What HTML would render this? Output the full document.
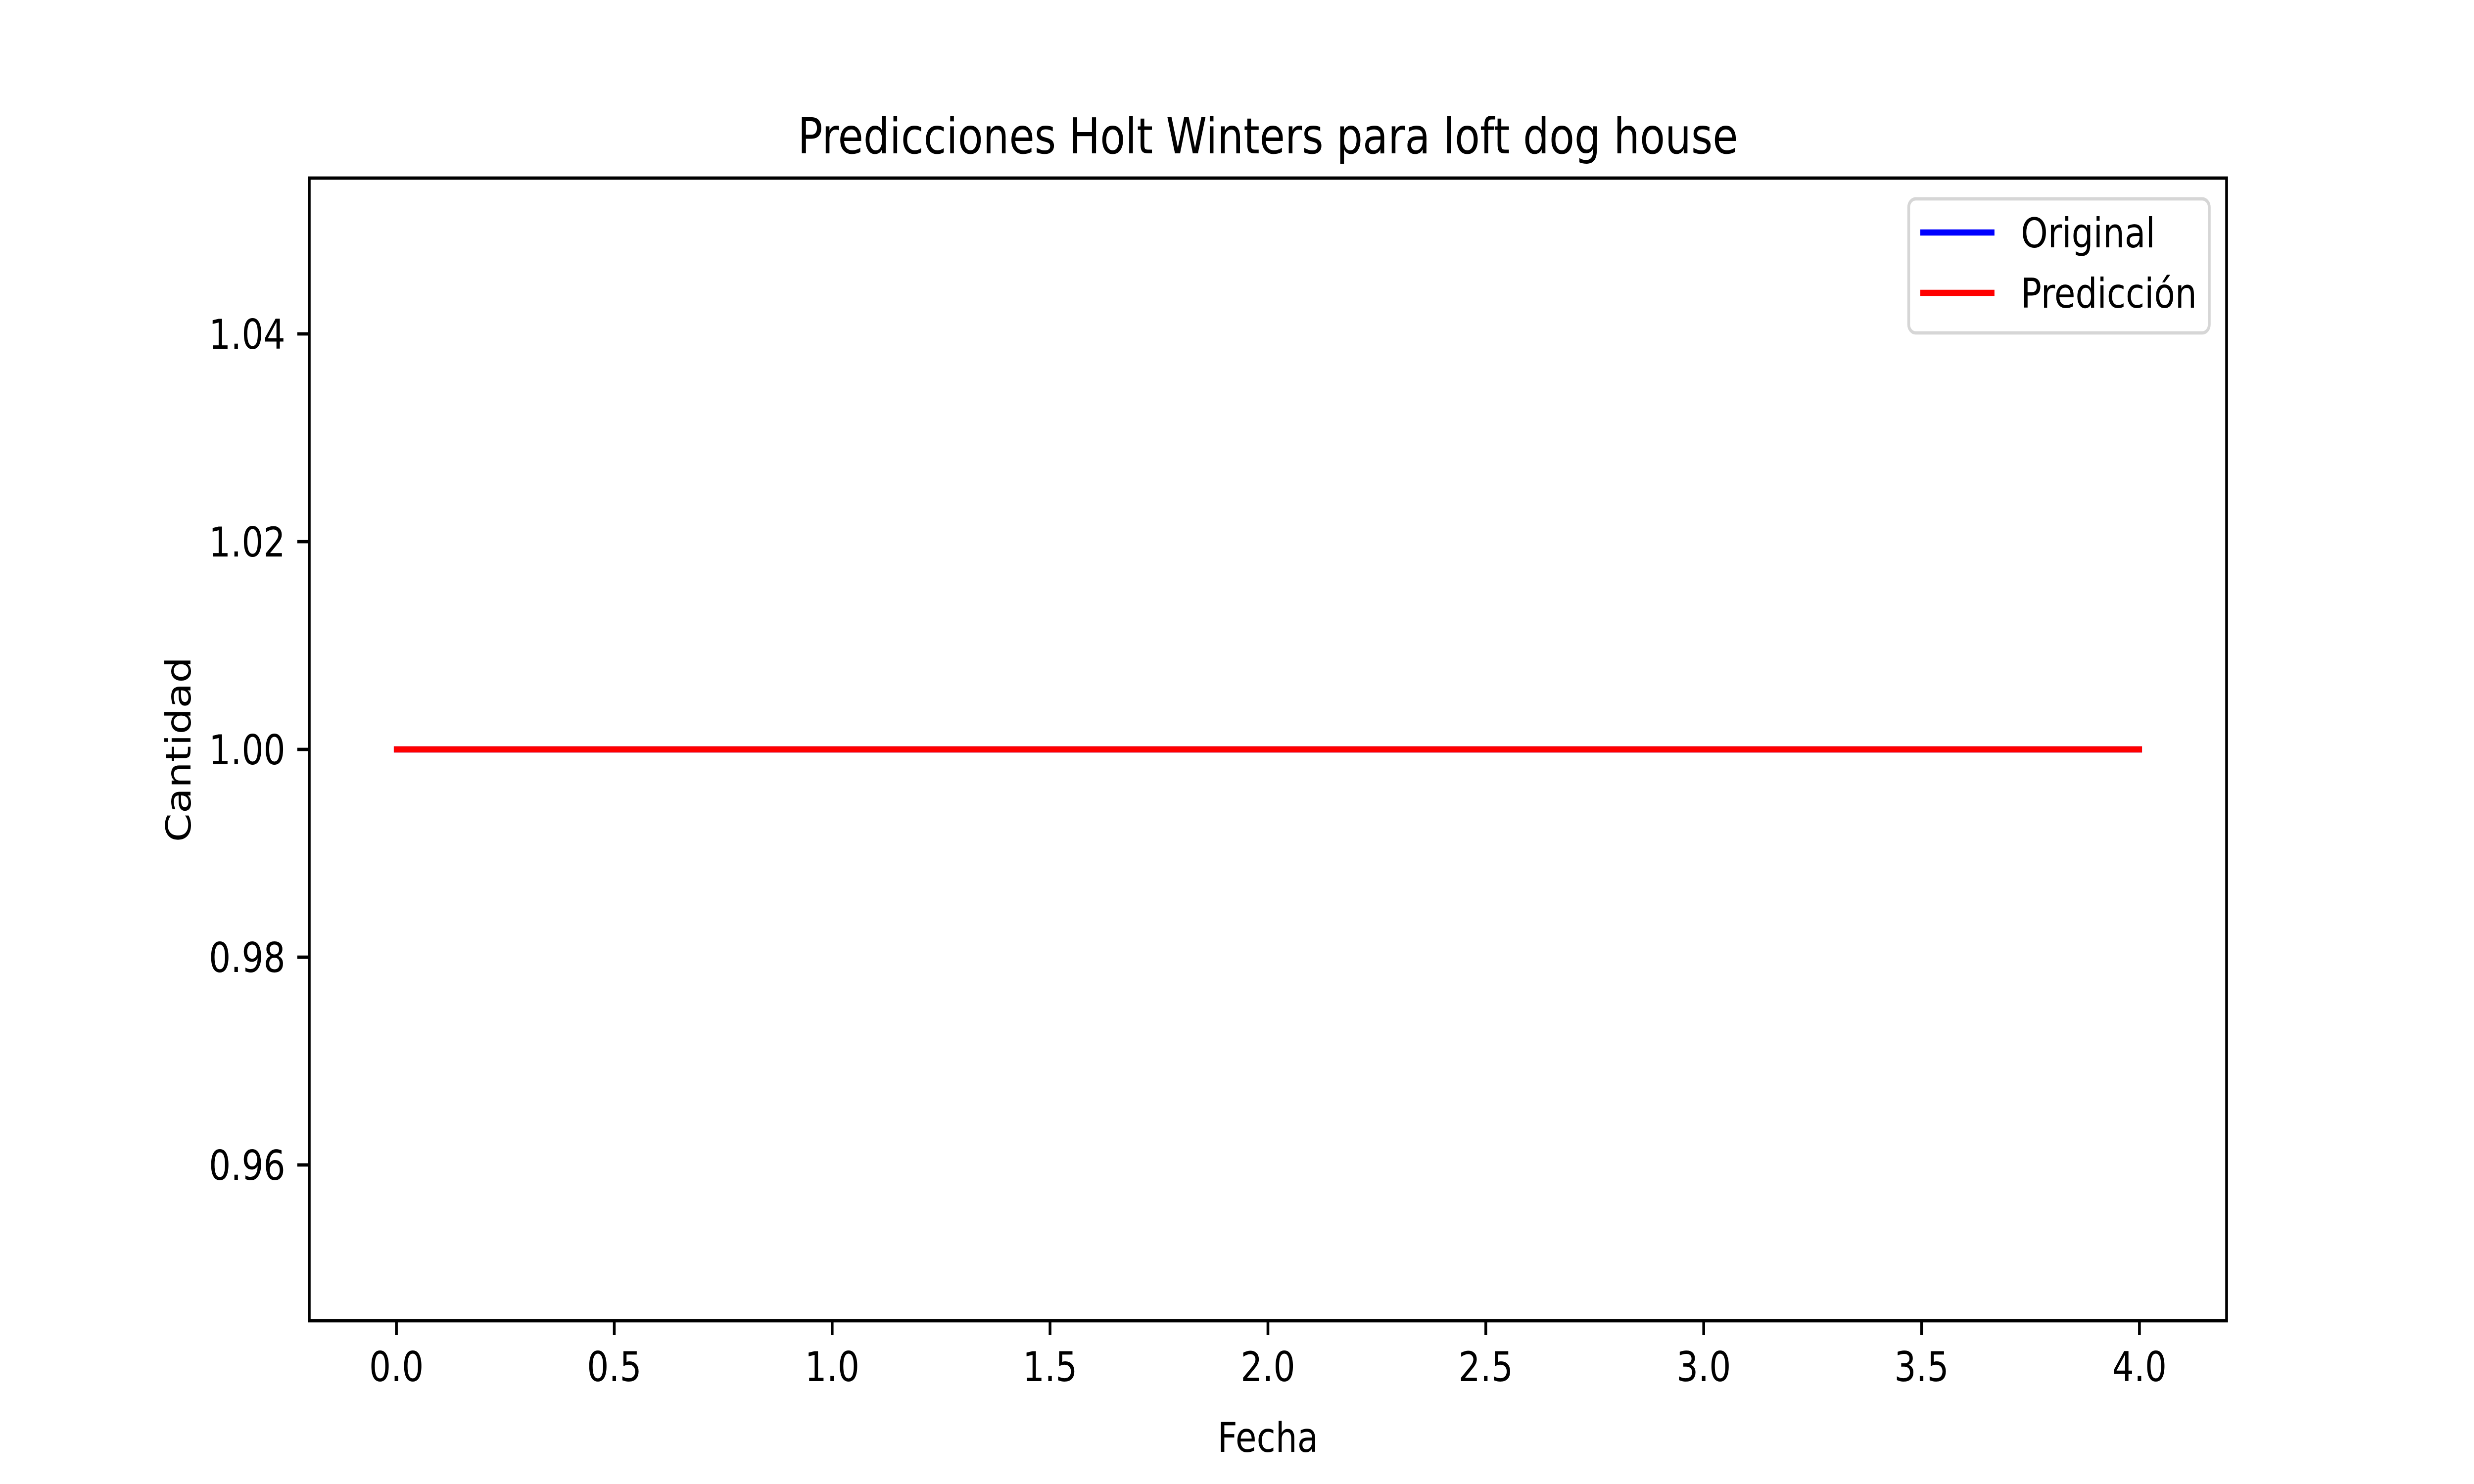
<!DOCTYPE html>
<html><head><meta charset="utf-8"><style>
html,body{margin:0;padding:0;background:#fff;width:100%;height:100%;overflow:hidden;}
svg{display:block;position:absolute;left:0;top:0;width:100vw;height:100vh;font-family:"DejaVu Sans","Liberation Sans",sans-serif;}
</style></head><body>
<svg id="chart" viewBox="0 0 6000 3000" preserveAspectRatio="none" xmlns="http://www.w3.org/2000/svg">
<rect x="0" y="0" width="6000" height="3000" fill="#fff"/>
<g id="plot"></g>
<text x="3075" y="310" font-size="100" text-anchor="middle" fill="#000">Predicciones Holt Winters para loft dog house</text>
<text x="3075" y="2935" font-size="83.3" text-anchor="middle" fill="#000">Fecha</text>
<text x="0" y="0" font-size="83.3" text-anchor="middle" fill="#000" transform="translate(462,1515) rotate(-90)">Cantidad</text>
</svg>
<script>
const xTicks = [0.0, 0.5, 1.0, 1.5, 2.0, 2.5, 3.0, 3.5, 4.0];
const xTickLabels = ["0.0","0.5","1.0","1.5","2.0","2.5","3.0","3.5","4.0"];
const yTicks = [0.96, 0.98, 1.00, 1.02, 1.04];
const yTickLabels = ["0.96","0.98","1.00","1.02","1.04"];
const originalX = [0, 1, 2, 3, 4];
const originalY = [1, 1, 1, 1, 1];
const predX = [0, 1, 2, 3, 4];
const predY = [1, 1, 1, 1, 1];

const L=750, R=5400, T=360, B=2670;
const xMin=-0.2, xMax=4.2, yMin=0.945, yMax=1.055;
function xs(v){return L+(v-xMin)/(xMax-xMin)*(R-L);}
function ys(v){return B-(v-yMin)/(yMax-yMin)*(B-T);}
const NS="http://www.w3.org/2000/svg";
const g=document.getElementById('plot');
function mk(tag,attrs,parent){const e=document.createElementNS(NS,tag);for(const k in attrs)e.setAttribute(k,attrs[k]);(parent||g).appendChild(e);return e;}

function series(xa,ya,color,name){
  const pts=xa.map((x,i)=>xs(x)+','+ys(ya[i])).join(' ');
  const p=mk('polyline',{points:pts,fill:'none',stroke:color,'stroke-width':12.5,'stroke-linecap':'square','stroke-linejoin':'round'});
  
  
}
series(originalX,originalY,'#0000ff','original-line');
series(predX,predY,'#ff0000','prediction-line');

xTicks.forEach((v,i)=>{
  const x=xs(v);
  const t=mk('line',{x1:x,y1:B,x2:x,y2:B+29,stroke:'#000','stroke-width':6.67});
  
  
  const lb=mk('text',{x:x,y:2792,'font-size':83.3,'text-anchor':'middle',fill:'#000'});
  lb.textContent=xTickLabels[i];
  
  
});
yTicks.forEach((v,i)=>{
  const y=ys(v);
  const t=mk('line',{x1:L-29,y1:y,x2:L,y2:y,stroke:'#000','stroke-width':6.67});
  
  
  const lb=mk('text',{x:692,y:y+30,'font-size':83.3,'text-anchor':'end',fill:'#000'});
  lb.textContent=yTickLabels[i];
  
  
});

const frame=mk('rect',{x:L,y:T,width:R-L,height:B-T,fill:'none',stroke:'#000','stroke-width':6.67});



const leg=mk('g',{});


const lbox=mk('rect',{x:4629,y:402,width:729,height:271,rx:17,ry:17,fill:'#fff',stroke:'#d6d6d6','stroke-width':6.67},leg);


[['Original','#0000ff',470,'legend-entry-original'],['Predicción','#ff0000',592,'legend-entry-prediccion']].forEach(e=>{
  const eg=mk('g',{},leg);
  
  
  mk('line',{x1:4657,y1:e[2],x2:4837,y2:e[2],stroke:e[1],'stroke-width':12.5},eg);
  const tx=mk('text',{x:4901,y:e[2]+30,'font-size':83.3,fill:'#000'},eg);
  tx.textContent=e[0];
});
</script>
</body></html>
